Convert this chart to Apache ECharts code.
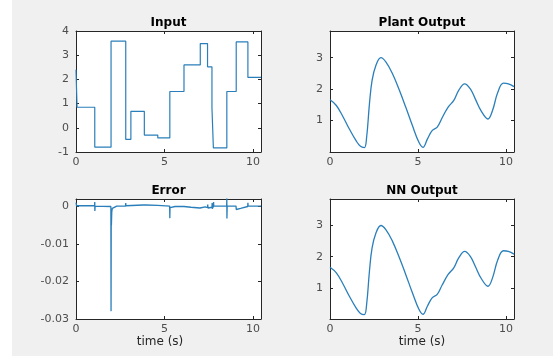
<!DOCTYPE html>
<html>
<head>
<meta charset="utf-8">
<script src="https://cdn.jsdelivr.net/npm/echarts@6/dist/echarts.min.js"></script>
<style>
  html, body { margin: 0; padding: 0; background: #f0f0f0; }
  #chart { width: 553px; height: 356px; }
</style>
</head>
<body>
<div id="chart"></div>
<script>
// Input: value holds from each time until the next one
const inputTimes = [0, 0.06, 1.06, 1.98, 2.81, 3.1, 3.86, 4.62, 5.3, 6.1, 7.02, 7.43, 7.68, 7.76, 8.52, 9.05, 9.71, 10.45];
const inputValues = [2.4, 0.85, -0.8, 3.58, -0.48, 0.68, -0.3, -0.42, 1.5, 2.6, 3.48, 2.52, 0.82, -0.83, 1.5, 3.55, 2.08, 2.08];

// Plant output and NN output (nearly identical curves)
const curveTimes = [0, 0.36, 0.73, 1.1, 1.48, 1.73, 1.95, 2.08, 2.24, 2.39, 2.61, 2.89, 3.18, 3.55, 3.93, 4.3, 4.68, 5.05, 5.28, 5.53, 5.8, 6.09, 6.37, 6.71, 7.03, 7.31, 7.65, 7.97, 8.25, 8.59, 8.97, 9.23, 9.53, 9.85, 10.13, 10.45];
const plantValues = [1.66, 1.48, 1.13, 0.73, 0.36, 0.18, 0.14, 0.47, 1.53, 2.28, 2.76, 3.0, 2.86, 2.49, 1.98, 1.43, 0.84, 0.31, 0.15, 0.41, 0.68, 0.79, 1.09, 1.43, 1.64, 1.96, 2.17, 2.01, 1.69, 1.3, 1.05, 1.32, 1.9, 2.19, 2.17, 2.08];
const nnValues = [1.66, 1.48, 1.13, 0.73, 0.36, 0.18, 0.14, 0.47, 1.53, 2.28, 2.76, 3.0, 2.86, 2.49, 1.98, 1.43, 0.84, 0.31, 0.15, 0.41, 0.68, 0.79, 1.09, 1.43, 1.64, 1.96, 2.17, 2.01, 1.69, 1.3, 1.05, 1.32, 1.9, 2.19, 2.17, 2.08];

// Error = plant - NN
const errorTimes = [0, 0.03, 1.05, 1.06, 1.065, 1.08, 1.97, 1.98, 1.99, 2.0, 2.02, 2.05, 2.3, 2.8, 2.81, 2.82, 3.8, 3.86, 3.95, 4.62, 4.63, 4.64, 5.29, 5.3, 5.31, 5.6, 6.1, 6.5, 7.0, 7.02, 7.3, 7.43, 7.44, 7.46, 7.68, 7.69, 7.7, 7.76, 7.77, 7.78, 8.51, 8.52, 8.525, 8.54, 9.04, 9.05, 9.1, 9.3, 9.7, 9.71, 9.72, 10.45];
const errorValues = [0.001, 0.0002, 0.0002, 0.0012, -0.0012, 0.0001, 0.0, -0.0279, -0.003, -0.005, -0.0015, -0.0005, 0.0001, 0.0001, 0.0009, 0.0002, 0.0004, 0.0008, 0.0004, 0.0003, 0.0008, 0.0002, 0.0001, -0.0031, -0.0003, 0.0, 0.0, -0.0002, -0.0004, -0.0006, -0.0001, -0.0003, 0.0005, -0.0004, -0.0002, 0.0009, -0.0006, 0.0, 0.0012, 0.0001, 0.0001, 0.0022, -0.0032, 0.0001, 0.0001, -0.0008, -0.001, -0.0005, 0.0, 0.001, 0.0001, 0.0001];

const titles = ['Input', 'Plant Output', 'Error', 'NN Output'];
const xTickLabels = ['0', '5', '10'];
const xLabelText = 'time (s)';

const lineColor = '#2a7fba';
const axisColor = '#262626';
const labelColor = '#4d4d4d';
const fontFamily = 'DejaVu Sans';
const tMax = 10.45;

const grids = [
  { left: 76, top: 31, width: 185, height: 121 },
  { left: 330, top: 31, width: 184, height: 121 },
  { left: 76, top: 199, width: 185, height: 120 },
  { left: 330, top: 199, width: 184, height: 120 },
];

const yRanges = [
  { min: -1, max: 4, interval: 1, showMin: true },
  { min: 0, max: 3.85, interval: 1, showMin: false },
  { min: -0.03, max: 0.002, interval: 0.01, showMin: true },
  { min: 0, max: 3.85, interval: 1, showMin: false },
];

// x positions of the "time (s)" labels under the bottom plots
const xLabelCenters = [160, 422];

function pairs(xs, ys) {
  return xs.map((x, i) => [x, ys[i]]);
}

var myChart = echarts.init(document.getElementById('chart'), null, { renderer: 'canvas' });

let xAxes = [];
let yAxes = [];
grids.forEach((g, i) => {
  // bottom axis with labels
  xAxes.push({
    type: 'value', gridIndex: i, position: 'bottom',
    min: 0, max: tMax, interval: 5,
    axisLine: { show: true, onZero: false, lineStyle: { color: axisColor, width: 1 } },
    axisTick: { show: true, inside: true, length: 3, lineStyle: { color: axisColor } },
    axisLabel: {
      show: true, color: labelColor, fontSize: 11, fontFamily: fontFamily, margin: 5,
      showMaxLabel: false,
      formatter: (v) => xTickLabels.includes(String(v)) ? String(v) : '',
    },
    splitLine: { show: false },
  });
  // top axis: box edge + ticks
  xAxes.push({
    type: 'value', gridIndex: i, position: 'top',
    min: 0, max: tMax, interval: 5,
    axisLine: { show: true, onZero: false, lineStyle: { color: axisColor, width: 1 } },
    axisTick: { show: true, inside: true, length: 3, lineStyle: { color: axisColor } },
    axisLabel: { show: false },
    splitLine: { show: false },
  });
  const r = yRanges[i];
  yAxes.push({
    type: 'value', gridIndex: i, position: 'left',
    min: r.min, max: r.max, interval: r.interval,
    axisLine: { show: true, onZero: false, lineStyle: { color: axisColor, width: 1 } },
    axisTick: { show: true, inside: true, length: 3, lineStyle: { color: axisColor } },
    axisLabel: {
      show: true, color: labelColor, fontSize: 11, fontFamily: fontFamily, margin: 7,
      showMinLabel: r.showMin, showMaxLabel: r.max % r.interval === 0,
      formatter: (v) => String(Math.round(v * 1000) / 1000),
    },
    splitLine: { show: false },
  });
  yAxes.push({
    type: 'value', gridIndex: i, position: 'right',
    min: r.min, max: r.max, interval: r.interval,
    axisLine: { show: true, onZero: false, lineStyle: { color: axisColor, width: 1 } },
    axisTick: { show: true, inside: true, length: 3, lineStyle: { color: axisColor } },
    axisLabel: { show: false },
    splitLine: { show: false },
  });
});

const seriesData = [
  { data: pairs(inputTimes, inputValues), step: 'end', width: 1.2 },
  { data: pairs(curveTimes, plantValues), smooth: 0.4, width: 1.3 },
  { data: pairs(errorTimes, errorValues), width: 1.3 },
  { data: pairs(curveTimes, nnValues), smooth: 0.4, width: 1.3 },
];

const titleStyle = { fontSize: 12, fontWeight: 'bold', color: '#000', fontFamily: fontFamily };
const nameStyle = { fontSize: 12, fontWeight: 'normal', color: '#262626', fontFamily: fontFamily };

var option = {
  backgroundColor: '#f0f0f0',
  animation: false,
  title: titles.map((t, i) => ({
    text: t,
    left: grids[i].left + grids[i].width / 2,
    top: grids[i].top - 14,
    textAlign: 'center',
    padding: 0,
    textStyle: titleStyle,
  })).concat(xLabelCenters.map((cx) => ({
    text: xLabelText,
    left: cx,
    top: 336,
    textAlign: 'center',
    padding: 0,
    textStyle: nameStyle,
  }))),
  graphic: [
    // white strip along the left edge of the figure
    { type: 'rect', left: 0, top: 0, shape: { width: 12, height: 356 }, style: { fill: '#ffffff' }, silent: true },
  ],
  grid: grids.map((g) => ({
    left: g.left, top: g.top, width: g.width, height: g.height,
    show: true, backgroundColor: '#ffffff', borderWidth: 0,
  })),
  xAxis: xAxes,
  yAxis: yAxes,
  series: seriesData.map((s, i) => ({
    type: 'line',
    xAxisIndex: i * 2,
    yAxisIndex: i * 2,
    data: s.data,
    step: s.step || false,
    smooth: s.smooth || false,
    showSymbol: false,
    clip: true,
    lineStyle: { color: lineColor, width: s.width },
  })),
};

myChart.setOption(option);
</script>
</body>
</html>
